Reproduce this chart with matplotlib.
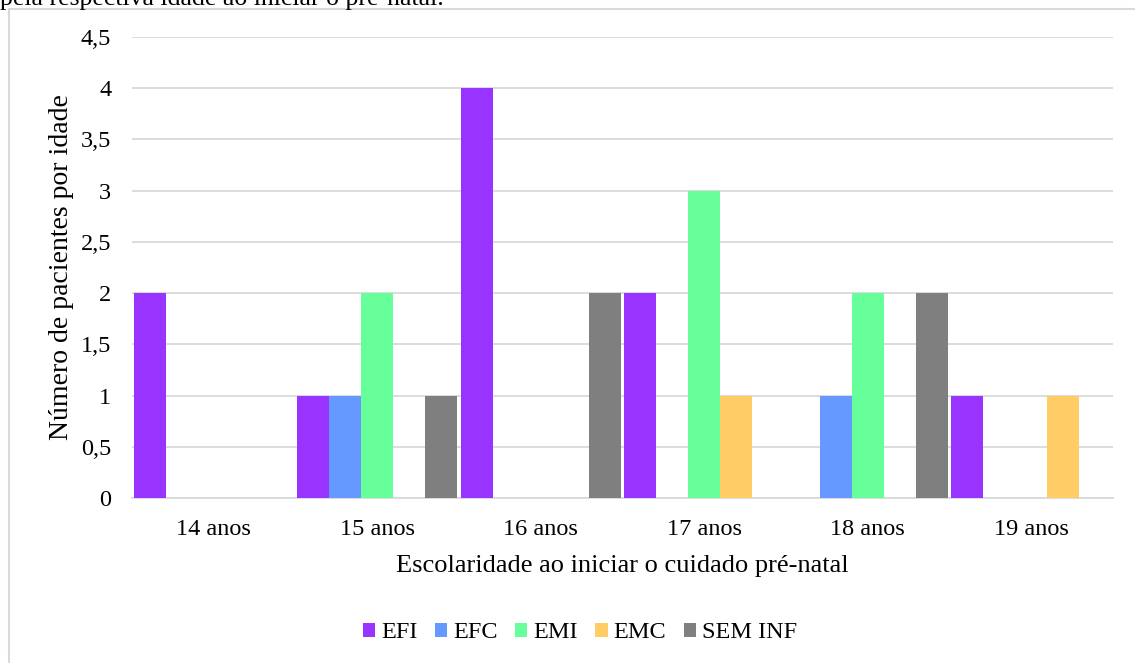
import matplotlib
matplotlib.use("Agg")
import matplotlib.pyplot as plt
import numpy as np
from matplotlib.patches import Rectangle

categories = ["14 anos", "15 anos", "16 anos", "17 anos", "18 anos", "19 anos"]
series_names = ["EFI", "EFC", "EMI", "EMC", "SEM INF"]
efi = [2, 1, 4, 2, 0, 1]
efc = [0, 1, 0, 0, 1, 0]
emi = [0, 2, 0, 3, 2, 0]
emc = [0, 0, 0, 1, 0, 1]
sem_inf = [0, 1, 2, 0, 2, 0]
colors = ["#9933FF", "#6699FF", "#66FF99", "#FFCC66", "#7F7F7F"]
yticks = [0, 0.5, 1, 1.5, 2, 2.5, 3, 3.5, 4, 4.5]
ytick_labels = ["0", "0,5", "1", "1,5", "2", "2,5", "3", "3,5", "4", "4,5"]

plt.rcParams['font.family'] = ['Liberation Serif', 'DejaVu Serif']

W, H = 1135, 663
fig = plt.figure(figsize=(W / 100, H / 100), dpi=100)

# chart border
fig.patches.append(Rectangle((9 / W, -0.05), 1.2, 1 - 9 / H + 0.05, transform=fig.transFigure,
                             fill=False, edgecolor="#D9D9D9", linewidth=1.5, zorder=0))
# clipped caption from the document
fig.text(0.0, 1 - 5 / H, "pela respectiva idade ao iniciar o pré-natal.", fontsize=18.5,
         ha="left", va="baseline", color="black")

ax = fig.add_axes([132 / W, 1 - 498 / H, (1113 - 132) / W, (498 - 37) / H])
data = [efi, efc, emi, emc, sem_inf]
x = np.arange(len(categories))
bw = 0.196
for j, (name, vals) in enumerate(zip(series_names, data)):
    ax.bar(x + (j - 2) * bw, vals, width=bw, color=colors[j], label=name, zorder=3,
           edgecolor="none")

ax.set_xlim(-0.5, len(categories) - 0.5)
ax.set_ylim(0, 4.5)
ax.set_yticks(yticks)
ax.set_yticklabels(ytick_labels)
ax.set_xticks(x)
ax.set_xticklabels(categories)
ax.tick_params(axis="both", length=0, labelsize=17.5)
ax.tick_params(axis="x", pad=15)
ax.tick_params(axis="y", pad=15)
ax.grid(axis="y", color="#D9D9D9", linewidth=1.3, zorder=0)
for s in ["top", "right", "left"]:
    ax.spines[s].set_visible(False)
ax.spines["bottom"].set_color("#D9D9D9")
ax.spines["bottom"].set_linewidth(1.3)

ax.set_xlabel("Escolaridade ao iniciar o cuidado pré-natal", fontsize=19, va="center")
ax.xaxis.set_label_coords(0.5, (498 - 566) / 461)
ax.set_ylabel("Número de pacientes por idade", fontsize=20, va="center")
ax.yaxis.set_label_coords((62 - 132) / 981, 0.5)

handles, labels = ax.get_legend_handles_labels()
fig.legend(handles, labels, loc="center", bbox_to_anchor=(580 / W, 1 - 633 / H), ncol=5,
           frameon=False, fontsize=17.5, handlelength=0.5, handleheight=0.5,
           handletextpad=0.25, columnspacing=0.72)

fig.savefig("out.png", dpi=100)
